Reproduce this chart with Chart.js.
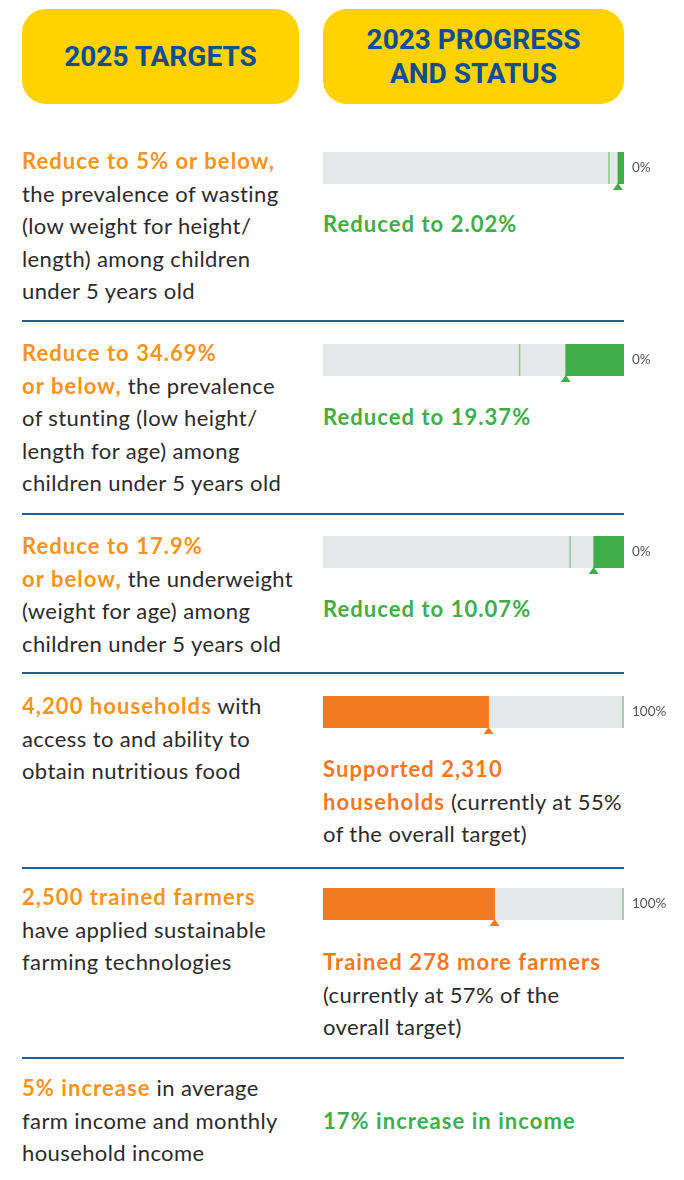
<!DOCTYPE html>
<html>
<head>
<meta charset="utf-8">
<script src="https://cdn.jsdelivr.net/npm/chart.js@4.4.1/dist/chart.umd.min.js"></script>
<style>
  html, body { margin: 0; padding: 0; background: #fff; }
  body { width: 684px; height: 1180px; position: relative; overflow: hidden; font-family: Lato, "Open Sans", sans-serif; }
  .hdr { position: absolute; top: 9px; height: 95px; background: #ffd200; border-radius: 24px;
         display: flex; align-items: center; justify-content: center; text-align: center;
         color: #0d4e92; font-family: "Liberation Sans Narrow", "Roboto", sans-serif; font-weight: 700;
         font-size: 28px; line-height: 34px; }
  .txt { position: absolute; font-size: 22px; line-height: 32.5px; color: #2b2b2b; white-space: nowrap; letter-spacing: 0.4px; }
  .txt b { font-weight: 700; letter-spacing: 1.05px; }
  .o { color: #f7941d; }
  .r { color: #f47920; }
  .g { color: #3fae49; }
  .sep { position: absolute; left: 22px; width: 602px; height: 1.5px; background: #1a5ea8; }
  .bar { position: absolute; left: 315px; width: 369px; height: 50px; }
</style>
</head>
<body>
<div class="hdr" style="left:22px;width:277px;">2025 TARGETS</div>
<div class="hdr" style="left:323px;width:301px;">2023 PROGRESS<br>AND STATUS</div>

<div class="txt" style="left:22px;top:145px;"><b class="o">Reduce to 5% or below,</b><br>the prevalence of wasting<br>(low weight for height/<br>length) among children<br>under 5 years old</div>
<div class="txt" style="left:323px;top:208px;"><b class="g">Reduced to 2.02%</b></div>
<div class="sep" style="top:320px;"></div>

<div class="txt" style="left:22px;top:337px;"><b class="o">Reduce to 34.69%<br>or below,</b> the prevalence<br>of stunting (low height/<br>length for age) among<br>children under 5 years old</div>
<div class="txt" style="left:323px;top:401px;"><b class="g">Reduced to 19.37%</b></div>
<div class="sep" style="top:513px;"></div>

<div class="txt" style="left:22px;top:530px;"><b class="o">Reduce to 17.9%<br>or below,</b> the underweight<br>(weight for age) among<br>children under 5 years old</div>
<div class="txt" style="left:323px;top:593px;"><b class="g">Reduced to 10.07%</b></div>
<div class="sep" style="top:672px;"></div>

<div class="txt" style="left:22px;top:690px;"><b class="o">4,200 households</b> with<br>access to and ability to<br>obtain nutritious food</div>
<div class="txt" style="left:323px;top:753px;"><b class="r">Supported 2,310<br>households</b> (currently at 55%<br>of the overall target)</div>
<div class="sep" style="top:867px;"></div>

<div class="txt" style="left:22px;top:881px;"><b class="o">2,500 trained farmers</b><br>have applied sustainable<br>farming technologies</div>
<div class="txt" style="left:323px;top:946px;"><b class="r">Trained 278 more farmers</b><br>(currently at 57% of the<br>overall target)</div>
<div class="sep" style="top:1057px;"></div>

<div class="txt" style="left:22px;top:1072px;"><b class="o">5% increase</b> in average<br>farm income and monthly<br>household income</div>
<div class="txt" style="left:323px;top:1105px;"><b class="g">17% increase in income</b></div>

<div class="bar" style="top:148px;"><canvas id="bar0"></canvas></div>
<div class="bar" style="top:340px;"><canvas id="bar1"></canvas></div>
<div class="bar" style="top:532px;"><canvas id="bar2"></canvas></div>
<div class="bar" style="top:692px;"><canvas id="bar3"></canvas></div>
<div class="bar" style="top:884px;"><canvas id="bar4"></canvas></div>

<script>
// values per row, in percent of the full scale
const indicators = ['Wasting', 'Stunting', 'Underweight', 'Households', 'Farmers'];
const targets = [5, 34.69, 17.9, 100, 100];
const achieved = [2.02, 19.37, 10.07, 55, 57];
const reduceRows = [true, true, true, false, false];
const endLabels = ['0%', '0%', '0%', '100%', '100%'];
const scaleMax = 100;

const GREEN = '#3fae49';
const ORANGE = '#f47920';
const GREY = '#e6e7e8';
const TARGET_LINE = '#8dcf8f';

const markerPlugin = {
  id: 'marker',
  afterDatasetsDraw(chart, args, opts) {
    const ctx = chart.ctx;
    const area = chart.chartArea;
    const x = chart.scales.x;

    // target line
    let tx = x.getPixelForValue(opts.target);
    tx = Math.min(Math.max(tx, area.left + 1), area.right - 1);
    ctx.save();
    ctx.strokeStyle = TARGET_LINE;
    ctx.lineWidth = 1.6;
    ctx.beginPath();
    ctx.moveTo(tx, area.top);
    ctx.lineTo(tx, area.bottom);
    ctx.stroke();

    // little triangle under the achieved value
    const vx = x.getPixelForValue(opts.value);
    ctx.fillStyle = opts.color;
    ctx.beginPath();
    ctx.moveTo(vx, area.bottom - 1);
    ctx.lineTo(vx - 5, area.bottom + 6);
    ctx.lineTo(vx + 5, area.bottom + 6);
    ctx.closePath();
    ctx.fill();

    // end label
    ctx.fillStyle = '#555';
    ctx.font = '13.5px Lato, "Open Sans", sans-serif';
    ctx.textBaseline = 'middle';
    ctx.textAlign = 'left';
    ctx.fillText(opts.label, area.right + 8, (area.top + area.bottom) / 2);
    ctx.restore();
  }
};

indicators.forEach((name, i) => {
  const color = reduceRows[i] ? GREEN : ORANGE;
  new Chart(document.getElementById('bar' + i), {
    type: 'bar',
    data: {
      labels: [name],
      datasets: [
        {
          data: [achieved[i]],
          backgroundColor: color,
          grouped: false,
          order: 0,
          barPercentage: 1,
          categoryPercentage: 1,
        },
        {
          data: [scaleMax],
          backgroundColor: GREY,
          grouped: false,
          order: 1,
          barPercentage: 1,
          categoryPercentage: 1,
        },
      ],
    },
    options: {
      indexAxis: 'y',
      responsive: true,
      maintainAspectRatio: false,
      animation: false,
      layout: { padding: { left: 8, right: 60, top: 4, bottom: 14 } },
      scales: {
        x: { display: false, min: 0, max: scaleMax, reverse: reduceRows[i] },
        y: { display: false },
      },
      plugins: {
        legend: { display: false },
        tooltip: { enabled: false },
        marker: { target: targets[i], value: achieved[i], color: color, label: endLabels[i] },
      },
    },
    plugins: [markerPlugin],
  });
});
</script>
</body>
</html>
